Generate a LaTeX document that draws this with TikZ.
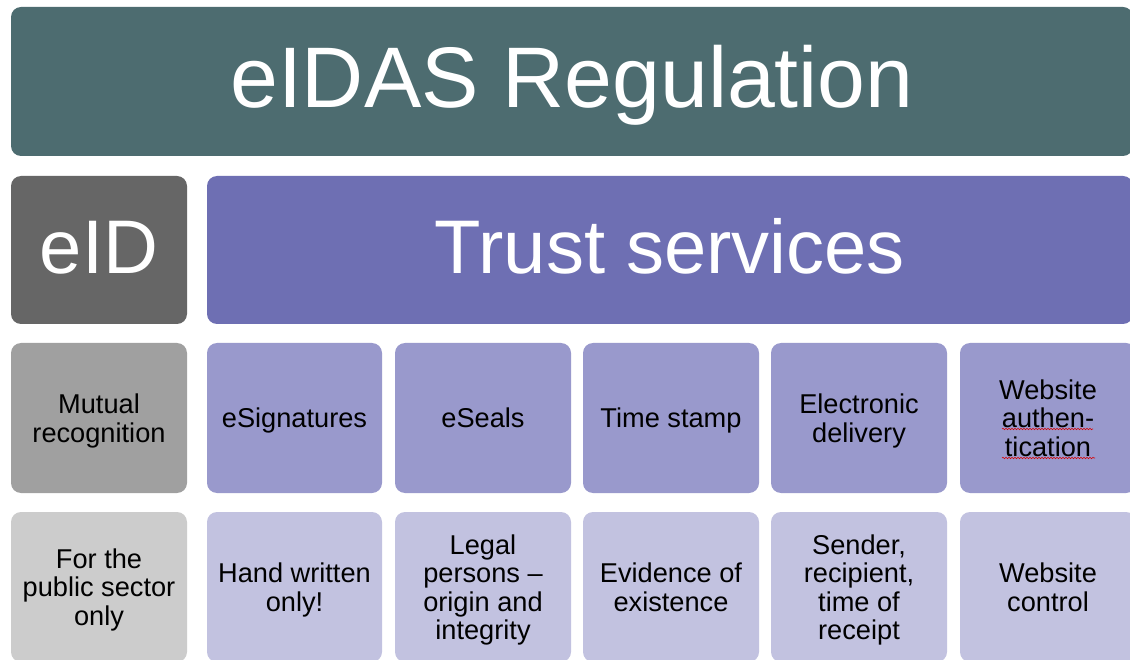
\documentclass[tikz,border=0pt]{standalone}
\usepackage{fontspec}
\setmainfont{Liberation Sans}
\usetikzlibrary{calc,decorations.pathmorphing}
\definecolor{bannerC}{HTML}{4D6C70}
\definecolor{eidC}{HTML}{666666}
\definecolor{trustC}{HTML}{6E6FB3}
\definecolor{eidmidC}{HTML}{A0A0A0}
\definecolor{trustmidC}{HTML}{9999CC}
\definecolor{eidlowC}{HTML}{CCCCCC}
\definecolor{trustlowC}{HTML}{C2C2E0}
\newcommand\celltext[1]{\begin{tabular}{@{}c@{}}\rule{0pt}{28.2pt}#1\end{tabular}}
\tikzset{
  box/.style={rectangle, rounded corners=10pt, draw=none, inner sep=0pt},
  bigtxt/.style={box, text=white, font=\fontsize{86}{95}\selectfont, text height=61.6pt, text depth=10pt},
  midtxt/.style={box, text=white, font=\fontsize{76}{84}\selectfont, text height=54.4pt, text depth=7pt},
  smalltxt/.style={box, text=black, font=\fontsize{27.2}{28.5}\selectfont, minimum height=150pt, minimum width=176pt},
  squig/.style={draw=red!85!black, line width=0.6pt, decorate, decoration={snake, amplitude=0.7pt, segment length=3pt}}
}
\begin{document}
\begin{tikzpicture}[x=1pt,y=-1pt]
\useasboundingbox (0,0) rectangle (1130,660);
\fill[white] (0,0) rectangle (1130,660);
\clip (0,0) rectangle (1130,660);
% row 1
\node[bigtxt, fill=bannerC, minimum width=1122pt, minimum height=149pt] (reg) at (572,81.5) {eIDAS Regulation};
% row 2
\node[midtxt, fill=eidC, minimum width=176pt, minimum height=148pt] (eid) at (99,250) {eID};
\node[midtxt, fill=trustC, minimum width=926pt, minimum height=148pt] (trust) at (670,250) {Trust services};
% row 3
\node[smalltxt, fill=eidmidC] (m0) at (99,418) {\celltext{Mutual\\recognition}};
\node[smalltxt, fill=trustmidC, minimum width=175pt] (m1) at (294.5,418) {\celltext{eSignatures}};
\node[smalltxt, fill=trustmidC] (m2) at (483,418) {\celltext{eSeals}};
\node[smalltxt, fill=trustmidC] (m3) at (671,418) {\celltext{Time stamp}};
\node[smalltxt, fill=trustmidC] (m4) at (859,418) {\celltext{Electronic\\delivery}};
\node[smalltxt, fill=trustmidC] (m5) at (1048,418) {\celltext{Website\\authen-\\tication}};
% row 4
\node[smalltxt, fill=eidlowC] (l0) at (99,587) {\celltext{For the\\public sector\\only}};
\node[smalltxt, fill=trustlowC, minimum width=175pt] (l1) at (294.5,587) {\celltext{Hand written\\only!}};
\node[smalltxt, fill=trustlowC] (l2) at (483,587) {\celltext{Legal\\persons –\\origin and\\integrity}};
\node[smalltxt, fill=trustlowC] (l3) at (671,587) {\celltext{Evidence of\\existence}};
\node[smalltxt, fill=trustlowC] (l4) at (859,587) {\celltext{Sender,\\recipient,\\time of\\receipt}};
\node[smalltxt, fill=trustlowC] (l5) at (1048,587) {\celltext{Website\\control}};
% spell-check marks
\draw[squig] ($(m5.center)+(-46,11)$) -- ($(m5.center)+(45,11)$);
\draw[squig] ($(m5.center)+(-46,40)$) -- ($(m5.center)+(47,40)$);
\end{tikzpicture}
\end{document}
